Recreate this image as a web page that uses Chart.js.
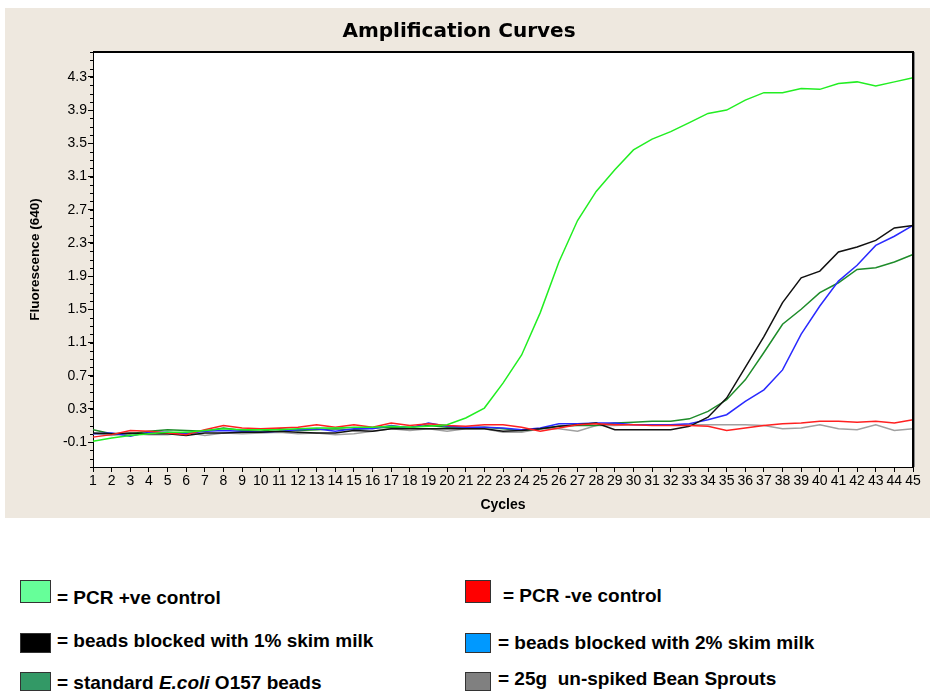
<!DOCTYPE html>
<html>
<head>
<meta charset="utf-8">
<title>Amplification Curves</title>
<script src="https://cdn.jsdelivr.net/npm/chart.js@4.4.1/dist/chart.umd.min.js"></script>
<style>
  html, body { margin: 0; padding: 0; background: #fff; width: 930px; height: 694px; overflow: hidden; }
  #panel { position: absolute; left: 5px; top: 8px; width: 925px; height: 510px; background: #EEE8DF; }
  #panel canvas { display: block; }
  .sw { position: absolute; box-sizing: border-box; border: 1px solid #333; }
  .key { position: absolute; font: bold 19px "Liberation Sans", Arial, sans-serif; color: #000; white-space: nowrap; line-height: 22px; }
</style>
</head>
<body>
<div id="panel"><canvas id="amp" width="925" height="510"></canvas></div>

<!-- legend (drawn as page text, like the original figure) -->
<div class="sw" style="left:20px;top:580px;width:31px;height:23px;background:#66FF99"></div>
<div class="key" style="left:57px;top:587px">= PCR +ve control</div>
<div class="sw" style="left:465px;top:580px;width:26px;height:23px;background:#FF0000"></div>
<div class="key" style="left:503px;top:585px">= PCR -ve control</div>

<div class="sw" style="left:20px;top:633px;width:31px;height:20px;background:#000000"></div>
<div class="key" style="left:57px;top:630px">= beads blocked with 1% skim milk</div>
<div class="sw" style="left:465px;top:633px;width:26px;height:20px;background:#0099FF"></div>
<div class="key" style="left:498px;top:632px">= beads blocked with 2% skim milk</div>

<div class="sw" style="left:20px;top:672px;width:31px;height:19px;background:#339966"></div>
<div class="key" style="left:57px;top:672px">= standard <i>E.coli</i> O157 beads</div>
<div class="sw" style="left:465px;top:672px;width:26px;height:19px;background:#808080"></div>
<div class="key" style="left:498px;top:668px">= 25g&nbsp; un-spiked Bean Sprouts</div>

<script>
    "use strict";

    /* ── data ── */
    const cycles = [1, 2, 3, 4, 5, 6, 7, 8, 9, 10, 11, 12, 13, 14, 15, 16, 17, 18, 19, 20,
        21, 22, 23, 24, 25, 26, 27, 28, 29, 30, 31, 32, 33, 34, 35, 36, 37, 38, 39, 40,
        41, 42, 43, 44, 45];

    const yTicks = [-0.1, 0.3, 0.7, 1.1, 1.5, 1.9, 2.3, 2.7, 3.1, 3.5, 3.9, 4.3];

    const pcrPositive = [-0.09, -0.05, -0.02, 0.00, 0.02, 0.02, 0.04, 0.06, 0.05, 0.05,
        0.05, 0.06, 0.07, 0.07, 0.08, 0.08, 0.09, 0.08, 0.09, 0.11,
        0.19, 0.31, 0.61, 0.95, 1.46, 2.07, 2.57, 2.92, 3.18, 3.42,
        3.55, 3.64, 3.75, 3.86, 3.90, 4.02, 4.11, 4.11, 4.16, 4.15,
        4.22, 4.24, 4.19, 4.24, 4.29];

    const pcrNegative = [-0.04, -0.01, 0.04, 0.03, 0.01, -0.01, 0.05, 0.10, 0.07, 0.06,
        0.07, 0.08, 0.11, 0.08, 0.11, 0.08, 0.13, 0.10, 0.12, 0.10,
        0.09, 0.11, 0.11, 0.08, 0.03, 0.07, 0.11, 0.12, 0.11, 0.11,
        0.10, 0.10, 0.10, 0.09, 0.04, 0.07, 0.10, 0.12, 0.13, 0.15,
        0.15, 0.14, 0.15, 0.13, 0.17];

    const skim1 = [0.01, 0.00, 0.01, 0.00, 0.00, -0.02, 0.01, 0.01, 0.02, 0.02,
        0.03, 0.02, 0.01, 0.01, 0.04, 0.03, 0.06, 0.06, 0.06, 0.06,
        0.06, 0.06, 0.03, 0.04, 0.06, 0.09, 0.11, 0.13, 0.05, 0.05,
        0.05, 0.05, 0.09, 0.20, 0.43, 0.80, 1.17, 1.58, 1.88, 1.96,
        2.19, 2.25, 2.33, 2.48, 2.51];

    const skim2 = [0.00, 0.01, -0.03, 0.02, 0.02, 0.00, 0.03, 0.04, 0.03, 0.02,
        0.03, 0.05, 0.06, 0.03, 0.06, 0.06, 0.10, 0.07, 0.13, 0.09,
        0.08, 0.08, 0.07, 0.05, 0.07, 0.12, 0.12, 0.13, 0.13, 0.11,
        0.11, 0.11, 0.12, 0.17, 0.23, 0.39, 0.53, 0.77, 1.20, 1.54,
        1.84, 2.03, 2.27, 2.38, 2.51];

    const standardBeads = [0.05, 0.00, 0.00, 0.03, 0.05, 0.04, 0.03, 0.07, 0.04, 0.03,
        0.06, 0.04, 0.05, 0.06, 0.05, 0.07, 0.08, 0.08, 0.10, 0.08,
        0.07, 0.08, 0.06, 0.04, 0.06, 0.09, 0.10, 0.10, 0.13, 0.14,
        0.15, 0.15, 0.18, 0.27, 0.41, 0.65, 0.98, 1.32, 1.50, 1.70,
        1.82, 1.98, 2.00, 2.07, 2.16];

    const beanSprouts = [0.00, -0.02, 0.00, -0.01, -0.01, 0.02, -0.02, 0.01, 0.00, 0.01,
        0.02, 0.00, 0.01, -0.01, 0.00, 0.03, 0.06, 0.04, 0.06, 0.03,
        0.06, 0.06, 0.02, 0.02, 0.06, 0.06, 0.03, 0.10, 0.10, 0.11,
        0.11, 0.11, 0.11, 0.11, 0.11, 0.11, 0.10, 0.06, 0.07, 0.11,
        0.06, 0.05, 0.11, 0.04, 0.06];

    const seriesNames = ["PCR +ve control", "PCR -ve control", "beads blocked with 1% skim milk",
        "beads blocked with 2% skim milk", "standard E.coli O157 beads", "25g un-spiked Bean Sprouts"];
    const seriesData = [pcrPositive, pcrNegative, skim1, skim2, standardBeads, beanSprouts];

    /* ── styling ── */
    const LINE = ["#22EE22", "#FF2020", "#111111", "#2A2AFF", "#1E8C2A", "#A0A0A0"];
    const TICK_FONT = { family: "Liberation Sans", size: 14 };

    /* white plot area, heavier top/right frame, minor y ticks */
    const framePlugin = {
        id: "frame",
        beforeDraw(chart) {
            const { ctx, chartArea: a } = chart;
            ctx.save();
            ctx.fillStyle = "#fff";
            ctx.fillRect(a.left, a.top, a.right - a.left, a.bottom - a.top);
            ctx.restore();
        },
        afterDraw(chart) {
            const { ctx, chartArea: a, scales: { y } } = chart;
            ctx.save();
            ctx.strokeStyle = "#000";
            ctx.lineWidth = 2;
            ctx.beginPath();
            ctx.moveTo(a.left, a.top);
            ctx.lineTo(a.right, a.top);
            ctx.lineTo(a.right, a.bottom);
            ctx.stroke();
            ctx.strokeStyle = "#8a8a8a";
            ctx.lineWidth = 1;
            ctx.beginPath();
            ctx.moveTo(a.right + 1.5, a.top);
            ctx.lineTo(a.right + 1.5, a.bottom);
            ctx.stroke();
            // minor ticks every 0.1
            ctx.strokeStyle = "#000";
            ctx.beginPath();
            for (let i = Math.ceil(y.min * 10); i <= Math.floor(y.max * 10); i++) {
                const p = Math.round(y.getPixelForValue(i / 10)) + 0.5;
                ctx.moveTo(a.left - 3, p);
                ctx.lineTo(a.left, p);
            }
            ctx.stroke();
            ctx.restore();
        }
    };

    new Chart(document.getElementById("amp"), {
        type: "line",
        data: {
            labels: cycles,
            datasets: seriesData.map((d, i) => ({
                label: seriesNames[i], data: d, borderColor: LINE[i],
                borderWidth: 1.5, pointRadius: 0, tension: 0, fill: false
            }))
        },
        options: {
            responsive: false, animation: false,
            layout: { padding: { left: 0, right: 17, top: 0, bottom: 0 } },
            plugins: {
                legend: { display: false },
                tooltip: { enabled: false },
                title: {
                    display: true, text: "Amplification Curves", color: "#000",
                    font: { family: "DejaVu Sans", size: 20, weight: "bold" },
                    padding: { top: 12, bottom: 8 }
                }
            },
            scales: {
                x: {
                    type: "category", offset: false,
                    afterFit: s => { s.height = 51; },
                    grid: { drawOnChartArea: false, drawTicks: true, tickLength: 5, tickColor: "#000", offset: false },
                    border: { display: true, color: "#000", width: 1 },
                    ticks: { autoSkip: false, maxRotation: 0, minRotation: 0, color: "#000", font: TICK_FONT, padding: 1 },
                    title: {
                        display: true, text: "Cycles", color: "#000",
                        font: { family: "Liberation Sans", size: 14, weight: "bold" },
                        padding: { top: 0, bottom: 4 }
                    }
                },
                y: {
                    min: -0.4, max: 4.6,
                    afterFit: s => { s.width = 88; },
                    afterBuildTicks: s => { s.ticks = yTicks.map(v => ({ value: v })); },
                    grid: { drawOnChartArea: false, drawTicks: true, tickLength: 5, tickColor: "#000" },
                    border: { display: true, color: "#000", width: 1 },
                    ticks: { color: "#000", font: TICK_FONT, padding: 1, callback: v => Number(v).toFixed(1) },
                    title: {
                        display: true, text: "Fluorescence (640)", color: "#000",
                        font: { family: "Liberation Sans", size: 13.5, weight: "bold" },
                        padding: { top: 22, bottom: 0 }
                    }
                }
            }
        },
        plugins: [framePlugin]
    });
</script>
</body>
</html>
